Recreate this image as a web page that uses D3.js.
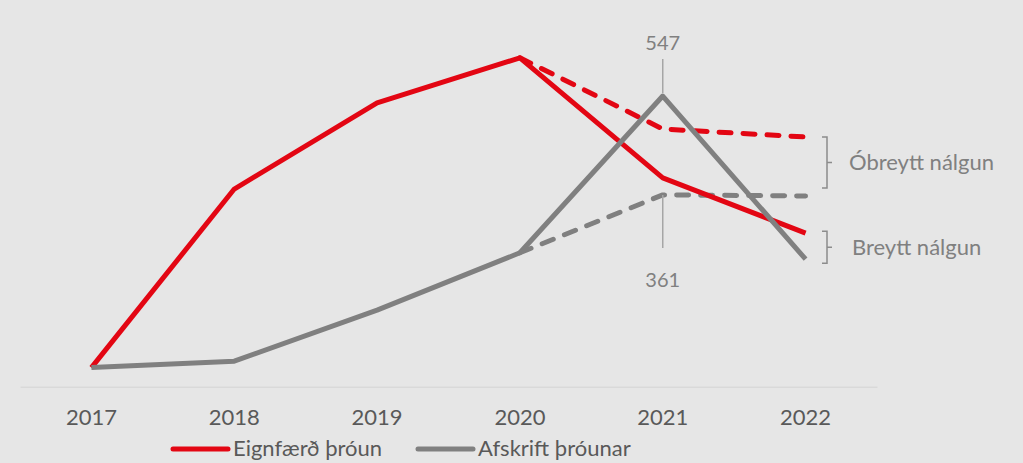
<!DOCTYPE html>
<html><head><meta charset="utf-8">
<script src="https://cdn.jsdelivr.net/npm/d3@7"></script>
<style>
html,body{margin:0;padding:0;background:#e6e6e6;}
svg{display:block;font-family:Lato, "Open Sans", sans-serif;}
</style></head>
<body><svg id="c" width="1023" height="463"></svg>
<script>
const years = ["2017","2018","2019","2020","2021","2022"];
const eignfaerd = [36, 372, 534, 619, 393, 289];
const afskrift = [36, 48, 144, 252, 547, 240];
const eignfaerdObreytt = [null, null, null, 619, 485, 470];
const afskriftObreytt = [null, null, null, 252, 361, 359];
const legendLabels = ["Eignfærð þróun", "Afskrift þróunar"];
const bracketLabels = ["Óbreytt nálgun", "Breytt nálgun"];
const peakLabel = 547, dashedLabel = 361;

const RED = "#e30613", GRAY = "#808080";
const svg = d3.select("#c");
const x = d3.scaleBand().domain(years).range([20, 877]).padding(0);
const cx = d => x(d) + x.bandwidth()/2;
const y = d3.scaleLinear().domain([0, 700]).range([386.7, 386.7 - 700/1.882]);

// axis
const ax = svg.append("g").attr("transform", "translate(0,386.7)")
  .call(d3.axisBottom(x).tickSize(0).tickPadding(23));
ax.select(".domain").attr("stroke", "#d9d9d9").attr("stroke-width", 1.5);
ax.selectAll("text").attr("fill", "#595959").attr("font-size", 22)
  .attr("font-family", "Lato, 'Open Sans', sans-serif");

const line = d3.line().defined(d => d.v != null).x(d => cx(d.k)).y(d => y(d.v));
const pts = arr => years.map((k,i) => ({k, v: arr[i]}));

function draw(arr, color, dashed){
  svg.append("path").datum(pts(arr)).attr("d", line)
    .attr("fill", "none").attr("stroke", color).attr("stroke-width", 5)
    .attr("stroke-linejoin", "round")
    .attr("stroke-linecap", dashed ? "round" : "butt")
    .attr("stroke-dasharray", dashed ? "12,12" : null);
}
draw(eignfaerdObreytt, RED, true);
draw(afskriftObreytt, GRAY, true);
draw(eignfaerd, RED, false);
draw(afskrift, GRAY, false);

// annotations 547 / 361
const x21 = cx("2021");
svg.append("line").attr("x1", x21).attr("x2", x21)
  .attr("y1", y(peakLabel) - 3).attr("y2", y(peakLabel) - 37)
  .attr("stroke", "#a6a6a6").attr("stroke-width", 1.5);
svg.append("text").attr("x", x21).attr("y", y(peakLabel) - 46)
  .attr("text-anchor", "middle").attr("fill", "#808080").attr("font-size", 20).text(peakLabel);
svg.append("line").attr("x1", x21).attr("x2", x21)
  .attr("y1", y(dashedLabel)).attr("y2", y(dashedLabel) + 53)
  .attr("stroke", "#a6a6a6").attr("stroke-width", 1.5);
svg.append("text").attr("x", x21).attr("y", y(dashedLabel) + 92)
  .attr("text-anchor", "middle").attr("fill", "#808080").attr("font-size", 20).text(dashedLabel);

// brackets
const bx = 827;
const brackets = [
  {top: y(eignfaerdObreytt[5]), bot: y(afskriftObreytt[5]) - 8, label: bracketLabels[0], tx: 849},
  {top: y(eignfaerd[5]) - 2, bot: y(afskrift[5]) + 4, label: bracketLabels[1], tx: 852}
];
brackets.forEach(b => {
  const mid = (b.top + b.bot)/2;
  svg.append("path")
    .attr("d", `M${bx-5},${b.top}H${bx}V${b.bot}H${bx-5}M${bx},${mid}H${bx+5}`)
    .attr("fill", "none").attr("stroke", "#8c8c8c").attr("stroke-width", 1.5);
  svg.append("text").attr("x", b.tx).attr("y", mid + 8)
    .attr("fill", "#808080").attr("font-size", 22).text(b.label);
});

// legend
const leg = [{c: RED, x1: 173, x2: 228, tx: 233}, {c: GRAY, x1: 418, x2: 473, tx: 478}];
leg.forEach((l, i) => {
  svg.append("line").attr("x1", l.x1).attr("x2", l.x2).attr("y1", 449).attr("y2", 449)
    .attr("stroke", l.c).attr("stroke-width", 5).attr("stroke-linecap", "round");
  svg.append("text").attr("x", l.tx).attr("y", 456).attr("fill", "#595959")
    .attr("font-size", 22).text(legendLabels[i]);
});
</script></body></html>
